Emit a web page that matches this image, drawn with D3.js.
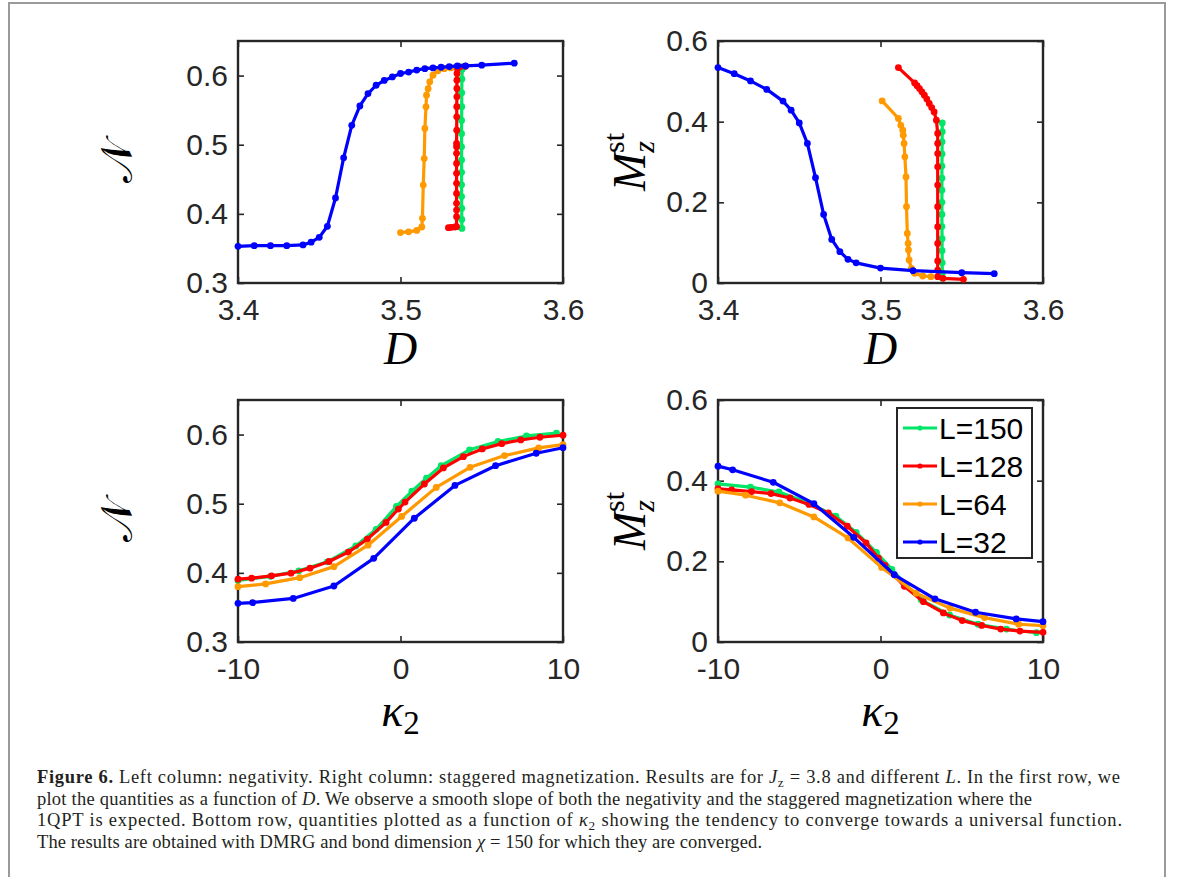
<!DOCTYPE html>
<html>
<head>
<meta charset="utf-8">
<script src="https://cdn.jsdelivr.net/npm/d3@7"></script>
<style>
  body { margin: 0; background: #fff; }
  svg { display: block; }
</style>
</head>
<body>
<div id="app"></div>
<script>
// ---- data ----
const seriesNames = ['L=150', 'L=128', 'L=64', 'L=32'];
const seriesColors = ['#00e666', '#ff0000', '#ff9900', '#0000ff'];

const dTicks = [3.4, 3.5, 3.6];
const kTicks = [-10, 0, 10];
const negTicks = [0.3, 0.4, 0.5, 0.6];
const magTicks = [0, 0.2, 0.4, 0.6];

// top left: negativity vs D
const negD150 = [3.5378, 3.5377, 3.5377, 3.5376, 3.5376, 3.5376, 3.5376, 3.5376, 3.5376, 3.5376, 3.5377, 3.5377, 3.5378, 3.5380, 3.5385];
const negN150 = [0.379, 0.392, 0.408, 0.425, 0.442, 0.460, 0.478, 0.497, 0.516, 0.535, 0.555, 0.575, 0.595, 0.609, 0.613];
const negD128 = [3.5295, 3.5312, 3.5335, 3.5345, 3.5345, 3.5345, 3.5345, 3.5345, 3.5345, 3.5345, 3.5345, 3.5345, 3.5345, 3.5345, 3.5346, 3.5346, 3.5346, 3.5347, 3.5347, 3.5347, 3.5348, 3.5350, 3.5365, 3.5400];
const negN128 = [0.380, 0.3805, 0.381, 0.3814, 0.3958, 0.4055, 0.4152, 0.4296, 0.4441, 0.4586, 0.4730, 0.4875, 0.4971, 0.5019, 0.5211, 0.5404, 0.5549, 0.5693, 0.5814, 0.5934, 0.6031, 0.6103, 0.6125, 0.6135];
const negD64 = [3.500, 3.505, 3.510, 3.5131, 3.5135, 3.5140, 3.5146, 3.5150, 3.5157, 3.5160, 3.5170, 3.5180, 3.5200, 3.5230, 3.5270, 3.5310];
const negN64 = [0.373, 0.374, 0.376, 0.381, 0.3935, 0.4416, 0.480, 0.5235, 0.5548, 0.5717, 0.581, 0.591, 0.6006, 0.607, 0.610, 0.611];
const negD32 = [3.40, 3.41, 3.42, 3.43, 3.44, 3.445, 3.45, 3.455, 3.46, 3.465, 3.47, 3.475, 3.48, 3.485, 3.49, 3.495, 3.50, 3.505, 3.51, 3.515, 3.52, 3.525, 3.53, 3.535, 3.54, 3.55, 3.57];
const negN32 = [0.353, 0.354, 0.354, 0.354, 0.355, 0.359, 0.366, 0.382, 0.423, 0.481, 0.528, 0.556, 0.574, 0.586, 0.593, 0.598, 0.603, 0.605, 0.608, 0.610, 0.611, 0.612, 0.613, 0.614, 0.614, 0.615, 0.618];

// top right: staggered magnetization vs D
const magD150 = [3.5380, 3.5380, 3.5379, 3.5379, 3.5378, 3.5378, 3.5378, 3.5378, 3.5378, 3.5378, 3.5379, 3.5379, 3.5380, 3.5380, 3.5381];
const magM150 = [0.397, 0.375, 0.350, 0.320, 0.290, 0.260, 0.230, 0.200, 0.170, 0.140, 0.110, 0.080, 0.050, 0.025, 0.012];
const magD128 = [3.511, 3.521, 3.5225, 3.524, 3.5255, 3.527, 3.5285, 3.530, 3.5315, 3.533, 3.5344, 3.5352, 3.5352, 3.5352, 3.5352, 3.5352, 3.5352, 3.5352, 3.5352, 3.5352, 3.5352, 3.5352, 3.5385, 3.551];
const magM128 = [0.534, 0.496, 0.489, 0.482, 0.474, 0.4656, 0.456, 0.445, 0.435, 0.424, 0.4037, 0.3707, 0.346, 0.321, 0.288, 0.2427, 0.189, 0.1394, 0.098, 0.0545, 0.032, 0.0156, 0.0116, 0.009];
const magD64 = [3.501, 3.511, 3.5125, 3.5137, 3.514, 3.5145, 3.515, 3.5157, 3.516, 3.5165, 3.517, 3.5172, 3.5176, 3.519, 3.521, 3.526, 3.531];
const magM64 = [0.4515, 0.408, 0.391, 0.379, 0.3665, 0.346, 0.3128, 0.263, 0.189, 0.123, 0.098, 0.082, 0.057, 0.036, 0.024, 0.0173, 0.0157];
const magD32 = [3.40, 3.41, 3.42, 3.43, 3.44, 3.445, 3.45, 3.455, 3.46, 3.465, 3.47, 3.475, 3.48, 3.485, 3.50, 3.52, 3.55, 3.57];
const magM32 = [0.534, 0.519, 0.501, 0.480, 0.451, 0.4285, 0.397, 0.346, 0.261, 0.170, 0.108, 0.0776, 0.0586, 0.050, 0.037, 0.0305, 0.0256, 0.023];

// bottom row: both quantities vs kappa_2
const kap150 = [-10, -8, -6.25, -4.5, -2.75, -1.5, -0.25, 0.7, 1.6, 2.5, 4.25, 6.0, 7.75, 9.6];
const kapN150 = [0.389, 0.395, 0.403, 0.416, 0.439, 0.463, 0.496, 0.518, 0.537, 0.555, 0.578, 0.590, 0.598, 0.602];
const kapM150 = [0.392, 0.384, 0.372, 0.346, 0.312, 0.272, 0.222, 0.180, 0.140, 0.1045, 0.067, 0.044, 0.032, 0.023];
const kap128 = [-10, -9.16, -7.93, -6.74, -5.57, -4.4, -3.21, -2.04, -0.89, -0.13, 0.28, 1.47, 2.64, 3.87, 5.03, 6.23, 7.4, 8.58, 10];
const kapN128 = [0.3908, 0.3923, 0.3957, 0.3995, 0.4068, 0.4164, 0.430, 0.4488, 0.4729, 0.4923, 0.5024, 0.5285, 0.5517, 0.5681, 0.5792, 0.5869, 0.5922, 0.5961, 0.599];
const kapM128 = [0.380, 0.377, 0.373, 0.368, 0.357, 0.341, 0.320, 0.287, 0.2455, 0.208, 0.190, 0.138, 0.100, 0.072, 0.053, 0.041, 0.032, 0.027, 0.024];
const kap64 = [-10, -8.3, -6.2, -4.1, -2.0, 0.07, 2.2, 4.28, 6.4, 8.5, 10];
const kapN64 = [0.380, 0.384, 0.393, 0.409, 0.440, 0.4816, 0.5236, 0.5526, 0.5696, 0.5807, 0.5855];
const kapM64 = [0.374, 0.364, 0.345, 0.310, 0.258, 0.185, 0.121, 0.084, 0.0605, 0.044, 0.0405];
const kap32 = [-10, -9.1, -6.6, -4.1, -1.65, 0.85, 3.35, 5.85, 8.35, 10];
const kapN32 = [0.356, 0.357, 0.363, 0.381, 0.421, 0.479, 0.5265, 0.555, 0.573, 0.581];
const kapM32 = [0.436, 0.427, 0.396, 0.343, 0.2595, 0.1667, 0.107, 0.0738, 0.0572, 0.0505];

// ---- layout ----
const width = 1182;
const height = 877;
const pw = 325;
const ph = 242;
const axisColor = '#262626';
const sansFont = '"Liberation Sans", Arial, Helvetica, sans-serif';
const serifFont = '"Liberation Serif", "Times New Roman", serif';

const svg = d3.select('#app')
  .append('svg')
  .attr('width', width)
  .attr('height', height);

// outer frame of the figure
svg.append('rect')
  .attr('x', 9).attr('y', 3)
  .attr('width', 1156).attr('height', 890)
  .attr('fill', 'none')
  .attr('stroke', '#9a9a9a')
  .attr('stroke-width', 2);

const panels = [
  { left: 238, top: 41, xDomain: [3.4, 3.6], yDomain: [0.3, 0.65], xTicks: dTicks, yTicks: negTicks,
    series: [[negD150, negN150], [negD128, negN128], [negD64, negN64], [negD32, negN32]], xLabel: 'D', yLabel: 'N' },
  { left: 718, top: 41, xDomain: [3.4, 3.6], yDomain: [0, 0.6], xTicks: dTicks, yTicks: magTicks,
    series: [[magD150, magM150], [magD128, magM128], [magD64, magM64], [magD32, magM32]], xLabel: 'D', yLabel: 'M' },
  { left: 238, top: 400, xDomain: [-10, 10], yDomain: [0.3, 0.65], xTicks: kTicks, yTicks: negTicks,
    series: [[kap150, kapN150], [kap128, kapN128], [kap64, kapN64], [kap32, kapN32]], xLabel: 'k', yLabel: 'N' },
  { left: 718, top: 400, xDomain: [-10, 10], yDomain: [0, 0.6], xTicks: kTicks, yTicks: magTicks,
    series: [[kap150, kapM150], [kap128, kapM128], [kap64, kapM64], [kap32, kapM32]], xLabel: 'k', yLabel: 'M', legend: true }
];

const styleTicks = (sel) => {
  sel.select('.domain').remove();
  sel.selectAll('line').attr('stroke', axisColor).attr('stroke-width', 1.6);
  sel.selectAll('text')
    .attr('fill', axisColor)
    .style('font-family', sansFont)
    .style('font-size', '30px');
};

panels.forEach(p => {
  const g = svg.append('g').attr('transform', `translate(${p.left},${p.top})`);
  const x = d3.scaleLinear().domain(p.xDomain).range([0, pw]);
  const y = d3.scaleLinear().domain(p.yDomain).range([ph, 0]);

  // 1. axes, ticks pointing inwards on all four sides
  g.append('g')
    .attr('transform', `translate(0,${ph})`)
    .call(d3.axisBottom(x).tickValues(p.xTicks).tickSize(-6).tickPadding(16).tickFormat(d => d))
    .call(styleTicks);
  g.append('g')
    .call(d3.axisTop(x).tickValues(p.xTicks).tickSize(-6).tickFormat(''))
    .call(styleTicks);
  g.append('g')
    .call(d3.axisLeft(y).tickValues(p.yTicks).tickSize(-6).tickPadding(10).tickFormat(d => d))
    .call(styleTicks);
  g.append('g')
    .attr('transform', `translate(${pw},0)`)
    .call(d3.axisRight(y).tickValues(p.yTicks).tickSize(-6).tickFormat(''))
    .call(styleTicks);

  g.append('rect')
    .attr('width', pw).attr('height', ph)
    .attr('fill', 'none')
    .attr('stroke', axisColor)
    .attr('stroke-width', 2.4);

  // 2. data, green first so blue ends on top
  const line = d3.line().x(d => x(d[0])).y(d => y(d[1]));
  p.series.forEach((s, i) => {
    const pts = d3.zip(s[0], s[1]);
    g.append('path')
      .datum(pts)
      .attr('d', line)
      .attr('fill', 'none')
      .attr('stroke', seriesColors[i])
      .attr('stroke-width', 3.2)
      .attr('stroke-linejoin', 'round');
    g.append('g')
      .selectAll('circle')
      .data(pts)
      .enter()
        .append('circle')
        .attr('cx', d => x(d[0]))
        .attr('cy', d => y(d[1]))
        .attr('r', 3.4)
        .attr('fill', seriesColors[i]);
  });

  // 3. axis titles
  const xt = g.append('text')
    .attr('x', pw / 2)
    .attr('text-anchor', 'middle')
    .attr('fill', '#000')
    .style('font-family', serifFont)
    .style('font-style', 'italic')
    .style('font-size', '46px');
  if (p.xLabel === 'D') {
    xt.attr('y', ph + 81).text('D');
  } else {
    xt.attr('y', ph + 84);
    xt.append('tspan').text('κ');
    xt.append('tspan').attr('dy', 8).style('font-size', '33px').style('font-style', 'normal').text('2');
  }

  if (p.yLabel === 'N') {
    svg.append('text')
      .attr('transform', `translate(${p.left - 106},${p.top + ph / 2}) rotate(-90)`)
      .attr('text-anchor', 'middle')
      .attr('fill', '#000')
      .style('font-family', '"DejaVu Serif", "DejaVu Sans", serif')
      .style('font-size', '44px')
      .text('𝒩');
  } else {
    const yt = svg.append('text')
      .attr('transform', `translate(${p.left - 73},${p.top + ph / 2}) rotate(-90)`)
      .attr('text-anchor', 'middle')
      .attr('fill', '#000')
      .style('font-family', serifFont)
      .style('font-style', 'italic')
      .style('font-size', '46px');
    yt.append('tspan').text('M');
    yt.append('tspan').attr('dy', 9).style('font-size', '30px').text('z');
    yt.append('tspan').attr('dx', -12).attr('dy', -30).style('font-size', '30px').style('font-style', 'normal').text('st');
  }

  // 4. legend
  if (p.legend) {
    const lg = g.append('g').attr('transform', 'translate(179,8)');
    lg.append('rect')
      .attr('width', 135).attr('height', 150)
      .attr('fill', '#fff')
      .attr('stroke', axisColor)
      .attr('stroke-width', 2);
    seriesNames.forEach((name, i) => {
      const cy = 20 + i * 38;
      lg.append('line')
        .attr('x1', 6).attr('x2', 40)
        .attr('y1', cy).attr('y2', cy)
        .attr('stroke', seriesColors[i])
        .attr('stroke-width', 3);
      lg.append('circle')
        .attr('cx', 23).attr('cy', cy).attr('r', 2.6)
        .attr('fill', seriesColors[i]);
      lg.append('text')
        .attr('x', 42).attr('y', cy + 11)
        .attr('fill', '#000')
        .style('font-family', sansFont)
        .style('font-size', '30px')
        .text(name);
    });
  }
});

// ---- caption ----
const captionLines = [
  [['Figure 6.', 'b'], [' Left column: negativity. Right column: staggered magnetization. Results are for ', ''], ['J', 'i'], ['z', 'sub'],
   [' = 3.8 and different ', ''], ['L', 'i'], ['. In the first row, we', '']],
  [['plot the quantities as a function of ', ''], ['D', 'i'], ['. We observe a smooth slope of both the negativity and the staggered magnetization where the', '']],
  [['1QPT is expected. Bottom row, quantities plotted as a function of ', ''], ['κ', 'i'], ['2', 'sub'],
   [' showing the tendency to converge towards a universal function.', '']],
  [['The results are obtained with DMRG and bond dimension ', ''], ['χ', 'i'], [' = 150 for which they are converged.', '']]
];
// widths the caption lines take in the original
const captionWidths = [1083, 995, 1085, 725];

const caption = svg.append('g')
  .style('font-family', serifFont)
  .style('font-size', '18.5px')
  .attr('fill', '#231f20');

captionLines.forEach((segs, li) => {
  const t = caption.append('text')
    .attr('x', 37)
    .attr('y', 783 + li * 21.6)
    .attr('textLength', captionWidths[li])
    .attr('lengthAdjust', 'spacing');
  segs.forEach(([txt, st], si) => {
    const ts = t.append('tspan').text(txt);
    if (st === 'b') ts.style('font-weight', 'bold');
    if (st === 'i') ts.style('font-style', 'italic');
    if (st === 'sub') ts.attr('dy', 4).style('font-size', '0.72em');
    if (si > 0 && segs[si - 1][1] === 'sub') ts.attr('dy', -4);
  });
});
</script>
</body>
</html>
